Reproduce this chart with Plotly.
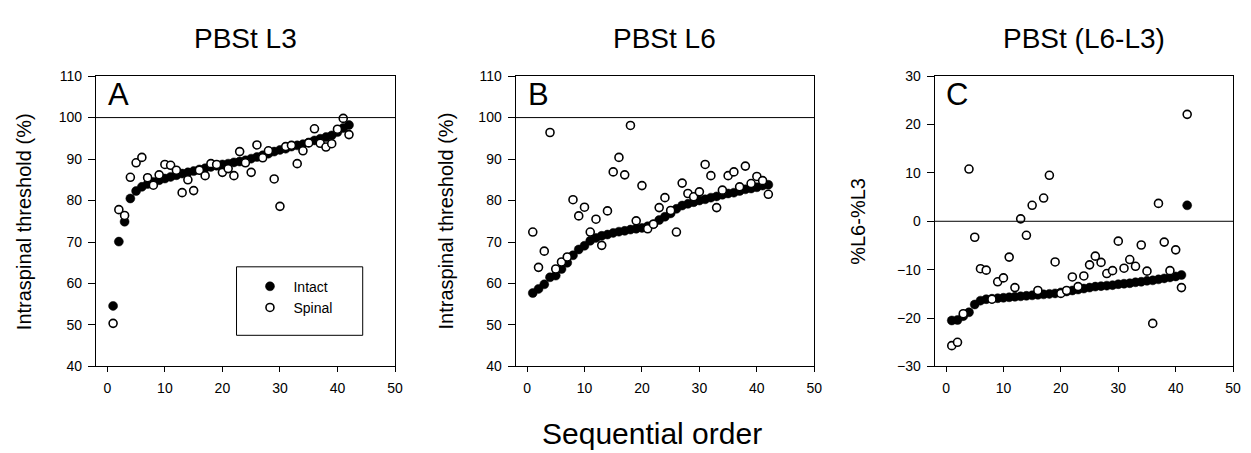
import plotly.graph_objects as go

# ---------------- data ----------------
order = list(range(1, 43))

intact_A = [54.6, 70.1, 74.9, 80.5, 82.3, 83.3, 84.0, 84.5, 84.9, 85.3,
            85.7, 86.1, 86.5, 86.8, 87.1, 87.5, 87.8, 88.1, 88.4, 88.7,
            88.9, 89.2, 89.4, 89.7, 90.1, 90.5, 90.9, 91.3, 91.8, 92.2,
            92.5, 93.0, 93.3, 93.6, 94.0, 94.5, 94.9, 95.3, 95.7, 96.5,
            97.5, 98.2]
spinal_A = [50.4, 77.8, 76.4, 85.6, 89.1, 90.4, 85.5, 83.7, 86.2, 88.7,
            88.5, 87.3, 81.9, 85.0, 82.4, 87.3, 86.0, 88.9, 88.7, 86.8,
            87.7, 86.0, 91.8, 89.1, 86.8, 93.4, 90.3, 92.0, 85.2, 78.6,
            93.0, 93.3, 88.9, 92.0, 93.9, 97.3, 93.8, 92.9, 93.7, 97.2,
            99.8, 95.9]

intact_B = [57.7, 58.7, 59.8, 61.5, 61.9, 63.5, 65.0, 66.8, 68.2, 69.1,
            70.3, 71.0, 71.5, 71.8, 72.2, 72.5, 72.7, 73.0, 73.2, 73.4,
            73.8, 74.3, 75.3, 76.1, 76.9, 78.0, 78.8, 79.2, 79.6, 80.0,
            80.3, 80.7, 81.0, 81.4, 81.7, 81.9, 82.3, 82.7, 82.9, 83.2,
            83.6, 83.8]
spinal_B = [72.4, 63.9, 67.8, 96.4, 63.5, 65.2, 66.4, 80.2, 76.3, 78.4,
            72.4, 75.5, 69.2, 77.5, 86.9, 90.4, 86.2, 98.1, 75.1, 83.6,
            73.2, 74.3, 78.3, 80.7, 77.6, 72.4, 84.2, 81.7, 80.9, 82.1,
            88.7, 86.0, 78.3, 82.5, 86.0, 86.9, 83.3, 88.3, 84.1, 85.8,
            84.8, 81.5]

intact_C = [-20.5, -20.4, -19.6, -18.8, -17.2, -16.4, -16.1, -16.0, -15.9, -15.8,
            -15.7, -15.6, -15.5, -15.4, -15.3, -15.2, -15.1, -15.0, -14.9, -14.7,
            -14.5, -14.3, -14.1, -13.9, -13.7, -13.5, -13.4, -13.3, -13.2, -13.0,
            -12.9, -12.8, -12.6, -12.5, -12.3, -12.2, -12.0, -11.8, -11.6, -11.4,
            -11.1, 3.3]
spinal_C = [-25.7, -25.0, -19.1, 10.8, -3.3, -9.8, -10.1, -16.1, -12.5, -11.7,
            -7.4, -13.7, 0.5, -2.9, 3.3, -14.3, 4.8, 9.5, -8.4, -14.9,
            -14.3, -11.5, -13.5, -11.3, -9.0, -7.2, -8.5, -10.8, -10.2, -4.1,
            -9.7, -7.9, -9.3, -4.9, -10.3, -21.1, 3.7, -4.3, -10.2, -5.9,
            -13.7, 22.1]

panel_letters = ["A", "B", "C"]
panel_titles = ["PBSt L3", "PBSt L6", "PBSt (L6-L3)"]
y_titles = ["Intraspinal threshold (%)", "Intraspinal threshold (%)", "%L6-%L3"]
y_ranges = [[40, 110], [40, 110], [-30, 30]]
y_ticks = [[40, 50, 60, 70, 80, 90, 100, 110],
           [40, 50, 60, 70, 80, 90, 100, 110],
           [-30, -20, -10, 0, 10, 20, 30]]
ref_lines = [100, 100, 0]
x_range = [-2, 50]
x_ticks = [0, 10, 20, 30, 40, 50]
x_title = "Sequential order"
series_names = ["Intact", "Spinal"]

# ---------------- layout geometry (pixels) ----------------
W, H = 1251, 453
FONT = "Liberation Sans, Arial, sans-serif"


def fx(p):
    return p / W


def fy(p):
    return 1 - p / H


x_doms_px = [(88.4, 389.5), (510.8, 811.5), (932.5, 1233.0)]
y_dom_px = (62.3, 363.3)
ylab_x_px = [16, 441, 856]

fig = go.Figure()
intacts = [intact_A, intact_B, intact_C]
spinals = [spinal_A, spinal_B, spinal_C]

for i in range(3):
    s = "" if i == 0 else str(i + 1)
    fig.add_trace(go.Scatter(
        x=order, y=intacts[i], mode="markers", name=series_names[0],
        showlegend=(i == 0),
        marker=dict(symbol="circle", size=9, color="black",
                    line=dict(color="black", width=0.5)),
        xaxis="x" + s, yaxis="y" + s))
    fig.add_trace(go.Scatter(
        x=order, y=spinals[i], mode="markers", name=series_names[1],
        showlegend=(i == 0),
        marker=dict(symbol="circle", size=8, color="white",
                    line=dict(color="black", width=1.6)),
        xaxis="x" + s, yaxis="y" + s))

layout = dict(
    width=W, height=H,
    margin=dict(l=0, r=0, t=0, b=0),
    paper_bgcolor="white", plot_bgcolor="white",
    font=dict(family=FONT, color="black"),
    showlegend=True,
    legend=dict(x=fx(240), y=fy(264), xanchor="left", yanchor="top",
                bgcolor="rgba(0,0,0,0)", borderwidth=0,
                font=dict(size=14, family=FONT, color="black"),
                itemwidth=37, tracegroupgap=0),
)

annotations = []
shapes = []
for i in range(3):
    s = "" if i == 0 else str(i + 1)
    xd = [fx(x_doms_px[i][0]), fx(x_doms_px[i][1])]
    yd = [fy(y_dom_px[1]), fy(y_dom_px[0])]
    layout["xaxis" + s] = dict(
        domain=xd, range=x_range, tickvals=x_ticks, ticks="outside",
        ticklen=5, tickwidth=1, tickcolor="black", showline=True,
        linecolor="black", linewidth=1, mirror=True, showgrid=False,
        zeroline=False, anchor="y" + s, ticklabelstandoff=4,
        tickfont=dict(size=14, family=FONT, color="black"))
    layout["yaxis" + s] = dict(
        domain=yd, range=y_ranges[i], tickvals=y_ticks[i], ticks="outside",
        ticklen=7, tickwidth=1, tickcolor="black", showline=True,
        linecolor="black", linewidth=1, mirror=True, showgrid=False,
        zeroline=False, anchor="x" + s, ticklabelstandoff=3,
        tickfont=dict(size=14, family=FONT, color="black"))
    # reference horizontal line
    shapes.append(dict(type="line", xref="x" + s + " domain", x0=0, x1=1,
                       yref="y" + s, y0=ref_lines[i], y1=ref_lines[i],
                       line=dict(color="black", width=1)))
    cx = (x_doms_px[i][0] + x_doms_px[i][1]) / 2
    # panel title
    annotations.append(dict(text=panel_titles[i], xref="paper", yref="paper",
                            x=fx(cx), y=fy(23), xanchor="center", yanchor="middle",
                            showarrow=False, font=dict(size=28, family=FONT, color="black")))
    # panel letter
    annotations.append(dict(text=panel_letters[i], xref="paper", yref="paper",
                            x=fx(x_doms_px[i][0] + 23), y=fy(81), xanchor="center",
                            yanchor="middle", showarrow=False,
                            font=dict(size=31, family=FONT, color="black")))
    # y title
    annotations.append(dict(text=y_titles[i], xref="paper", yref="paper",
                            x=fx(ylab_x_px[i]), y=fy((y_dom_px[0] + y_dom_px[1]) / 2),
                            xanchor="center", yanchor="middle", textangle=-90,
                            showarrow=False, font=dict(size=20, family=FONT, color="black")))

# common x title
annotations.append(dict(text=x_title, xref="paper", yref="paper",
                        x=fx(648), y=fy(433), xanchor="center", yanchor="middle",
                        showarrow=False, font=dict(size=30, family=FONT, color="black")))

# legend box
shapes.append(dict(type="rect", xref="paper", yref="paper",
                   x0=fx(230), x1=fx(357), y0=fy(331), y1=fy(260),
                   line=dict(color="black", width=1), fillcolor="rgba(0,0,0,0)"))

layout["annotations"] = annotations
layout["shapes"] = shapes
fig.update_layout(**layout)

fig.write_html("out.html")
